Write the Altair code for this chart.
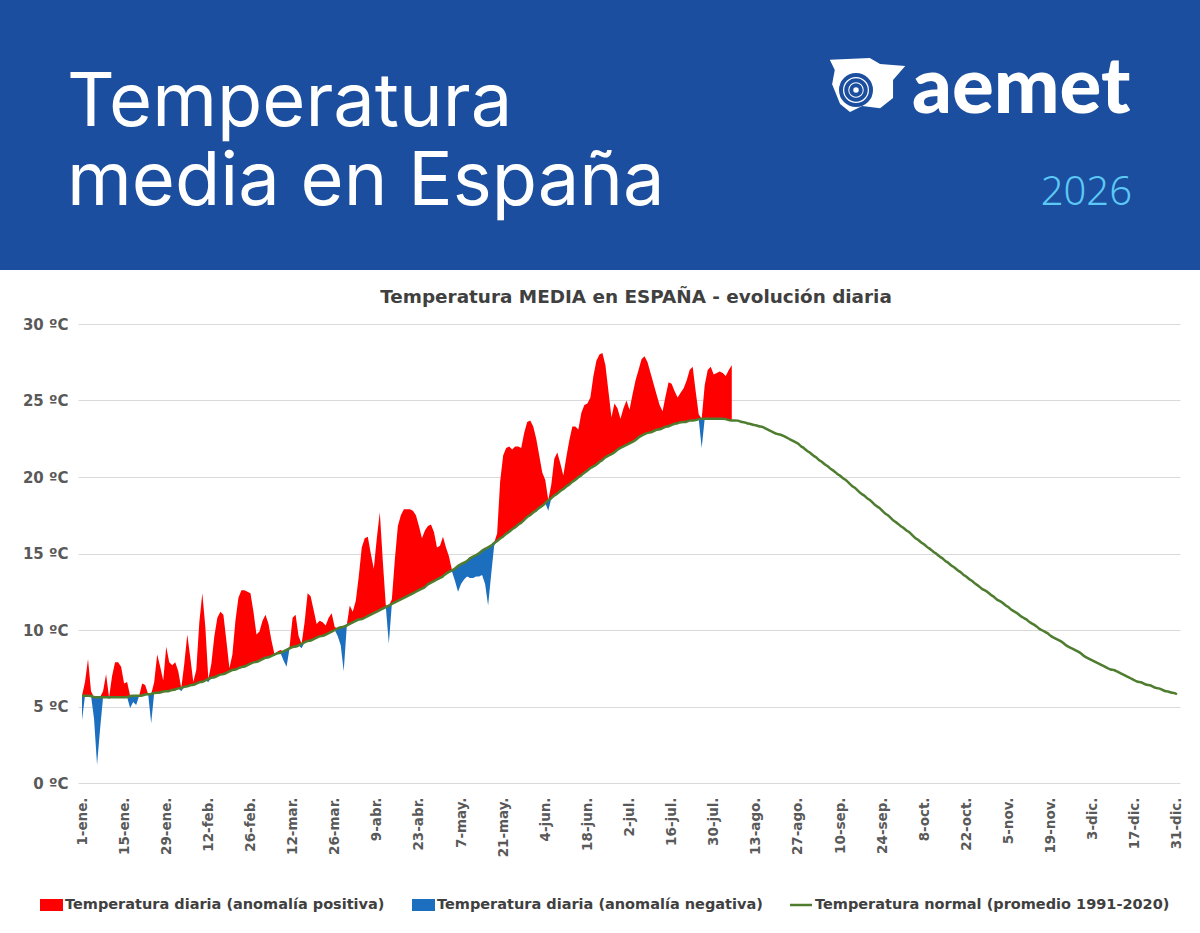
import json
import altair as alt
import pandas as pd

# Daily mean temperature in Spain, 1 Jan - 5 Aug 2026 (ºC)
tmed = [
    4.1, 6.6, 8.1, 6.0, 4.2, 1.2, 3.5, 6.0, 7.1, 5.5,
    7.0, 7.9, 7.9, 7.6, 6.5, 6.6, 4.9, 5.3, 5.1, 5.7,
    6.5, 6.4, 5.8, 3.9, 6.6, 8.4, 7.6, 6.7, 8.9, 7.9,
    7.7, 7.9, 7.3, 6.0, 7.8, 9.7, 8.2, 6.6, 7.4, 10.5,
    12.4, 10.2, 6.6, 7.8, 9.6, 10.8, 11.2, 11.0, 9.3, 7.5,
    8.4, 10.6, 12.1, 12.6, 12.6, 12.5, 12.4, 11.2, 9.7, 9.9,
    10.6, 11.0, 10.4, 9.3, 8.3, 8.6, 8.7, 8.0, 7.6, 8.9,
    10.8, 11.0, 9.6, 8.8, 10.5, 12.4, 12.2, 11.3, 10.4, 10.6,
    10.5, 10.3, 10.8, 11.1, 10.2, 9.6, 9.0, 7.3, 10.2, 11.6,
    11.2, 11.9, 13.5, 15.4, 16.0, 16.1, 15.0, 14.0, 16.0, 17.7,
    14.5, 11.6, 9.1, 12.0, 14.6, 16.8, 17.5, 17.9, 17.9, 17.9,
    17.8, 17.5, 16.8, 16.0, 16.5, 16.8, 16.9, 16.4, 15.4, 15.5,
    16.1, 15.4, 14.8, 13.8, 13.2, 12.5, 13.0, 13.3, 13.5, 13.4,
    13.4, 13.5, 13.5, 13.6, 13.0, 11.6, 13.6, 15.5, 16.3, 19.7,
    21.4, 21.9, 22.0, 21.8, 22.0, 22.0, 21.9, 22.9, 23.6, 23.7,
    23.3, 22.5, 21.4, 20.3, 19.8, 17.8, 19.5, 21.2, 21.6, 20.9,
    20.1, 21.3, 22.4, 23.3, 23.3, 23.1, 24.2, 24.7, 24.8, 25.2,
    26.6, 27.6, 28.0, 28.1, 27.3, 25.6, 23.9, 24.8, 24.5, 23.8,
    24.5, 25.0, 24.4, 25.4, 26.3, 27.0, 27.7, 27.9, 27.5, 26.8,
    26.1, 25.4, 24.7, 24.3, 25.3, 26.2, 26.1, 25.6, 25.2, 25.5,
    25.8, 26.3, 27.0, 27.2, 25.6, 24.1, 21.9, 26.0, 27.0, 27.2,
    26.7, 26.8, 26.9, 26.8, 26.6, 27.0, 27.3,
]

# Normal daily mean temperature (1991-2020), one value per day of the year (ºC)
tnormal = [
    5.7, 5.7, 5.7, 5.7, 5.6, 5.6, 5.6, 5.6, 5.6, 5.6,
    5.6, 5.6, 5.6, 5.6, 5.6, 5.6, 5.7, 5.7, 5.7, 5.7, 5.7,
    5.8, 5.8, 5.8, 5.9, 5.9, 5.9, 6.0, 6.0, 6.0, 6.1,
    6.1, 6.2, 6.2, 6.3, 6.3, 6.4, 6.4, 6.5, 6.6, 6.6, 6.7, 6.8,
    6.9, 6.9, 7.0, 7.1, 7.1, 7.2, 7.3, 7.4, 7.4, 7.5, 7.6, 7.6, 7.7, 7.8,
    7.9, 7.9, 8.0, 8.1, 8.2, 8.2, 8.3, 8.4, 8.5, 8.5, 8.6, 8.7, 8.8, 8.9,
    8.9, 9.0, 9.1, 9.2, 9.3, 9.3, 9.4, 9.5, 9.6, 9.6, 9.7, 9.8, 9.9, 10.0,
    10.1, 10.2, 10.2, 10.3, 10.4, 10.5, 10.6, 10.7, 10.7, 10.8, 10.9, 11.0, 11.1, 11.2,
    11.3, 11.4, 11.5, 11.6, 11.7, 11.8, 11.9, 12.0, 12.1, 12.2, 12.3, 12.4, 12.5, 12.6,
    12.7, 12.8, 13.0, 13.1, 13.2, 13.3, 13.4, 13.5, 13.7, 13.8, 13.9,
    14.0, 14.2, 14.3, 14.4, 14.5, 14.7, 14.8, 14.9, 15.0, 15.2, 15.3, 15.4, 15.5, 15.7, 15.8,
    16.0, 16.1, 16.3, 16.4, 16.6, 16.7, 16.9, 17.0, 17.2, 17.4, 17.5, 17.7, 17.8, 18.0, 18.1, 18.3,
    18.5, 18.6, 18.8, 18.9, 19.1, 19.2, 19.4, 19.5, 19.7, 19.8, 20.0,
    20.1, 20.3, 20.4, 20.6, 20.7, 20.8, 21.0, 21.1, 21.3, 21.4,
    21.5, 21.6, 21.8, 21.9, 22.0, 22.1, 22.2, 22.3, 22.4, 22.6, 22.7,
    22.8, 22.9, 22.9, 23.0, 23.1, 23.1, 23.2, 23.3, 23.3, 23.4, 23.5,
    23.5, 23.6, 23.6, 23.6, 23.7, 23.7, 23.7, 23.8, 23.8,
    23.8, 23.8, 23.8, 23.8, 23.8, 23.8, 23.8, 23.8, 23.7, 23.7, 23.7,
    23.7, 23.6, 23.6, 23.5, 23.5, 23.4, 23.4, 23.3, 23.3,
    23.2, 23.1, 23.0, 22.9, 22.8, 22.8, 22.7, 22.6, 22.5, 22.4, 22.3, 22.2,
    22.0, 21.9, 21.7, 21.6, 21.4, 21.3, 21.1, 21.0, 20.8, 20.7, 20.5, 20.4, 20.2, 20.1,
    19.9, 19.8, 19.6, 19.4, 19.3, 19.1, 18.9, 18.8, 18.6, 18.5, 18.3, 18.1, 18.0, 17.8,
    17.6, 17.5, 17.3, 17.1, 17.0, 16.8, 16.7, 16.5, 16.4, 16.2, 16.0, 15.9, 15.7, 15.6, 15.4, 15.3, 15.1, 15.0,
    14.8, 14.7, 14.5, 14.4, 14.2, 14.1, 13.9, 13.8, 13.6, 13.5, 13.3, 13.2, 13.0, 12.9, 12.7, 12.6,
    12.5, 12.3, 12.2, 12.0, 11.9, 11.8, 11.6, 11.5, 11.3, 11.2, 11.1, 10.9, 10.8, 10.7, 10.5, 10.4, 10.3, 10.1, 10.0,
    9.9, 9.8, 9.6, 9.5, 9.4, 9.3, 9.2, 9.0, 8.9, 8.8, 8.7, 8.6, 8.5, 8.3, 8.2, 8.1, 8.0,
    7.9, 7.8, 7.7, 7.6, 7.5, 7.4, 7.4, 7.3, 7.2, 7.1, 7.0, 6.9, 6.8, 6.7,
    6.6, 6.6, 6.5, 6.4, 6.4, 6.3, 6.2, 6.2, 6.1, 6.0, 6.0, 5.9, 5.9, 5.8,
]

# Date labels shown every 14 days
tick_labels = [
    "1-ene.", "15-ene.", "29-ene.", "12-feb.", "26-feb.", "12-mar.", "26-mar.",
    "9-abr.", "23-abr.", "7-may.", "21-may.", "4-jun.", "18-jun.", "2-jul.",
    "16-jul.", "30-jul.", "13-ago.", "27-ago.", "10-sep.", "24-sep.", "8-oct.",
    "22-oct.", "5-nov.", "19-nov.", "3-dic.", "17-dic.", "31-dic.",
]
y_ticks = [0, 5, 10, 15, 20, 25, 30]

legend_labels = [
    "Temperatura diaria (anomalía positiva)",
    "Temperatura diaria (anomalía negativa)",
    "Temperatura normal (promedio 1991-2020)",
]

RED = "#FF0000"
BLUE = "#1C6EBF"
GREEN = "#4E7D2F"
HEADER_BLUE = "#1B4E9E"
TEXT_GREY = "#404040"
AXIS_GREY = "#595959"
FONT = "DejaVu Sans"

W, H = 1102, 459
PAD_L, PAD_T = 78, 324

obs = pd.DataFrame({
    "dia": list(range(len(tmed))),
    "tmed": tmed,
    "normal": tnormal[: len(tmed)],
})
norm = pd.DataFrame({"dia": list(range(len(tnormal))), "normal": tnormal})
one = pd.DataFrame({"k": [0]})

x_enc = alt.X(
    "dia:Q",
    scale=alt.Scale(domain=[-1.33, 365], nice=False, zero=False),
    axis=alt.Axis(
        values=list(range(0, 14 * len(tick_labels), 14)),
        labelExpr=json.dumps(tick_labels) + "[round(datum.value / 14)]",
        labelAngle=270,
        labelFont=FONT,
        labelFontSize=13.5,
        labelFontWeight="bold",
        labelColor=AXIS_GREY,
        labelPadding=14,
        ticks=False,
        tickSize=0,
        domain=False,
        grid=False,
        title=None,
        labelOverlap=False,
    ),
)
y_axis = alt.Axis(
    values=y_ticks,
    labelExpr="datum.value + ' ºC'",
    labelFont=FONT,
    labelFontSize=15,
    labelFontWeight="bold",
    labelColor=AXIS_GREY,
    labelPadding=10,
    ticks=False,
    tickSize=0,
    domain=False,
    grid=True,
    gridColor="#D9D9D9",
    gridWidth=1,
    title=None,
)
y_scale = alt.Scale(domain=[0, 30], nice=False)

base_obs = alt.Chart(obs).transform_calculate(
    sup="max(datum.tmed, datum.normal)",
    inf="min(datum.tmed, datum.normal)",
)

pos_area = base_obs.mark_area(color=RED, interpolate="linear").encode(
    x=x_enc,
    y=alt.Y("sup:Q", scale=y_scale, axis=y_axis),
    y2="normal:Q",
)
neg_area = base_obs.mark_area(color=BLUE, interpolate="linear").encode(
    x=x_enc,
    y=alt.Y("inf:Q", scale=y_scale, axis=y_axis),
    y2="normal:Q",
)
normal_line = alt.Chart(norm).mark_line(
    color=GREEN, strokeWidth=2.5, interpolate="basis"
).encode(
    x=x_enc,
    y=alt.Y("normal:Q", scale=y_scale, axis=y_axis),
)

# Header band
header = alt.Chart(one).mark_rect(color=HEADER_BLUE).encode(
    x=alt.value(-PAD_L), x2=alt.value(1200 - PAD_L),
    y=alt.value(-PAD_T), y2=alt.value(270 - PAD_T),
)
head_t1 = alt.Chart(one).mark_text(
    text="Temperatura", font="Inter", fontSize=74, fontWeight=400,
    color="white", align="left", baseline="alphabetic",
).encode(x=alt.value(67 - PAD_L), y=alt.value(126 - PAD_T))
head_t2 = alt.Chart(one).mark_text(
    text="media en España", font="Inter", fontSize=74, fontWeight=400,
    color="white", align="left", baseline="alphabetic",
).encode(x=alt.value(67 - PAD_L), y=alt.value(205 - PAD_T))
head_year = alt.Chart(one).mark_text(
    text="2026", font="Noto Sans", fontSize=40, fontWeight=300,
    color="#5BC8F5", align="right", baseline="alphabetic",
).encode(x=alt.value(1132 - PAD_L), y=alt.value(205 - PAD_T))
head_logo = alt.Chart(one).mark_text(
    text="aemet", font="Lato", fontSize=78, fontWeight=900,
    color="white", align="left", baseline="alphabetic",
).encode(x=alt.value(912 - PAD_L), y=alt.value(113 - PAD_T))

# Logo emblem: white map silhouette with contour rings
emblem_path = (
    "M -0.95 -0.74 L 0.1 -0.79 L 0.37 -0.63 L 1.03 -0.58 L 0.71 -0.21 "
    "L 0.71 0.26 L 0.37 0.53 L -0.1 0.47 L -0.42 0.63 L -0.68 0.42 "
    "L -0.89 -0.1 L -0.82 -0.47 Z"
)
emblem = alt.Chart(one).mark_point(
    shape=emblem_path, filled=True, color="white", opacity=1, size=5800,
).encode(x=alt.value(866 - PAD_L), y=alt.value(88 - PAD_T))
rings = alt.Chart(pd.DataFrame({"r": [900, 380, 90]})).mark_point(
    shape="circle", filled=False, color=HEADER_BLUE, strokeWidth=4, opacity=1,
).encode(
    x=alt.value(856 - PAD_L), y=alt.value(90 - PAD_T),
    size=alt.Size("r:Q", scale=None, legend=None),
)

# Chart title
title = alt.Chart(one).mark_text(
    text="Temperatura MEDIA en ESPAÑA - evolución diaria", font=FONT,
    fontSize=18.4, fontWeight="bold", color=TEXT_GREY, align="center",
    baseline="alphabetic",
).encode(x=alt.value(636 - PAD_L), y=alt.value(303 - PAD_T))

# Legend
leg_y = 905 - PAD_T
leg_red = alt.Chart(one).mark_rect(color=RED).encode(
    x=alt.value(40 - PAD_L), x2=alt.value(63 - PAD_L),
    y=alt.value(leg_y - 6), y2=alt.value(leg_y + 6),
)
leg_blue = alt.Chart(one).mark_rect(color=BLUE).encode(
    x=alt.value(412 - PAD_L), x2=alt.value(435 - PAD_L),
    y=alt.value(leg_y - 6), y2=alt.value(leg_y + 6),
)
leg_green = alt.Chart(one).mark_rule(color=GREEN, strokeWidth=2.5).encode(
    x=alt.value(790 - PAD_L), x2=alt.value(812 - PAD_L), y=alt.value(leg_y),
)
leg_texts = []
for lab, xpos in zip(legend_labels, [65, 437, 815]):
    leg_texts.append(
        alt.Chart(one).mark_text(
            text=lab, font=FONT, fontSize=14.5, fontWeight="bold",
            color=TEXT_GREY, align="left", baseline="middle",
        ).encode(x=alt.value(xpos - PAD_L), y=alt.value(leg_y))
    )

chart = alt.layer(
    pos_area, neg_area, normal_line,
    header, head_t1, head_t2, head_year, head_logo, emblem, rings,
    title, leg_red, leg_blue, leg_green, *leg_texts,
).properties(
    width=W, height=H,
    padding={"left": PAD_L, "top": PAD_T, "right": 1200 - PAD_L - W, "bottom": 933 - PAD_T - H},
    autosize=alt.AutoSizeParams(type="none"),
    background="white",
).configure_view(stroke=None)

chart.save("out.html", embed_options={"renderer": "svg", "actions": False})
